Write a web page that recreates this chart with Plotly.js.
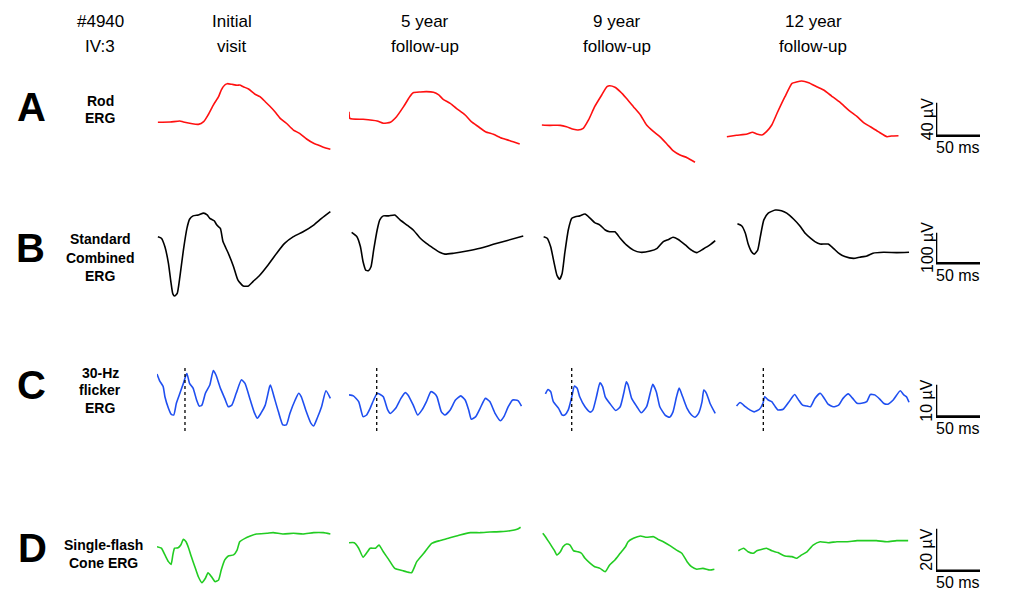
<!DOCTYPE html>
<html>
<head>
<meta charset="utf-8">
<script src="https://cdn.plot.ly/plotly-3.0.1.min.js"></script>
<style>body{margin:0;background:#fff}#plot{width:1011px;height:606px}</style>
</head>
<body>
<div id="plot"></div>
<script>
// sweeps: time (ms) from start of each trace, amplitude (uV); one inner list per visit
var visits = ['Initial visit', '5 year follow-up', '9 year follow-up', '12 year follow-up'];

var rodT = [
  [1,15,26,30,47,53,58,64,70,73,77,80,85,91,94,98,104,111,117,123,128,134,140,147,155,162,170,178,183,189,197],
  [0,1,16,32,39,47,54,62,69,73,81,88,96,102,107,115,122,132,139,147,155,164,174,183,194],
  [1,10,22,29,37,42,48,54,61,69,75,78,84,90,97,105,113,120,128,135,143,150,158,166,175],
  [1,12,24,30,35,41,46,52,58,67,75,80,86,94,103,111,120,130,139,149,156,164,173,183,188,196]
];
var rodUv = [
  [3.3,3.6,4.8,3.6,0.8,4.0,12.1,24.2,34.3,42.4,48.5,50.1,49.3,48.1,48.5,46.4,43.6,37.6,34.3,28.2,23.0,16.1,8.1,2.1,-6.1,-10.1,-17.0,-22.2,-24.2,-27.0,-29.5],
  [16,8,6.9,4.8,2.1,3.3,10.1,22.2,34.3,39.1,40.0,40.4,39.6,36.4,31.1,26.3,20.2,12.1,4.0,-2.1,-8.1,-11.3,-16.1,-19.0,-23.0],
  [0,-0.4,-0.4,-2.1,-5.2,-6.1,-4.0,6.1,22.2,36.4,46.4,47.6,45.7,40.4,32.4,22.2,12.1,0,-8.1,-14.2,-23.0,-31.1,-36.4,-39.6,-45.2],
  [-14.2,-12.5,-10.9,-8.8,-10.9,-12.1,-8.1,0,14.2,34.3,50.5,52.1,53.3,51.3,46.4,42.4,35.1,27.0,18.2,10.1,3.3,-2.1,-8.1,-14.2,-13.3,-13.0]
];

var combT = [
  [1,5,9,13,16,18,20,23,26,30,34,37,41,47,53,57,60,65,68,72,75,81,87,92,98,104,109,117,126,136,145,155,166,178,187,197],
  [3,9,13,16,19,22,25,28,32,35,39,45,52,58,66,73,81,88,96,103,109,119,134,149,164,179,198],
  [3,7,11,15,18,21,24,27,31,35,39,44,50,56,61,67,73,78,84,90,97,105,113,124,132,139,145,150,156,164,171,177,184,192,198],
  [13,18,22,25,29,32,36,39,43,48,56,63,69,77,84,90,96,101,107,116,122,128,135,145,152,160,167,179,194,208]
];
var combUv = [
  [1,-4,-32,-86,-151,-186,-193,-184,-130,-43,28,58,69,72,78,72,61,53,39,28,-15,-53,-97,-141,-160,-160,-146,-124,-92,-53,-21,1,17,39,61,83],
  [15,1,-32,-81,-108,-110,-97,-43,23,56,69,69,72,56,39,23,-4,-21,-37,-50,-56,-53,-46,-37,-24,-12,3],
  [1,-4,-32,-86,-124,-138,-119,-53,23,61,66,69,75,61,47,39,23,17,17,-4,-26,-43,-50,-46,-37,-15,-8,-1,-8,-26,-43,-51,-40,-26,-12],
  [43,36,12,-21,-48,-56,-43,1,56,78,88,86,78,58,36,12,-4,-15,-23,-23,-37,-53,-64,-70,-66,-62,-53,-50,-51,-50]
];

var flickT = [
  [0,3,7,9,13,16,19,22,26,30,33,34,37,41,45,48,51,55,60,64,67,72,77,81,85,90,96,100,106,111,114,118,123,128,129,133,138,143,147,151,157,161,164,169,175,178,182,187,192,197],
  [0,5,11,16,20,24,28,32,35,39,44,47,53,59,64,67,73,78,83,88,93,97,100,105,109,115,121,127,132,136,139,144,149,155,160,166,172,176,181,186,192,196],
  [5,8,11,14,20,24,27,31,35,38,41,44,50,56,59,63,67,70,73,78,85,90,94,97,99,103,109,114,120,124,127,131,135,141,146,150,154,157,161,166,171,175,179,183,185,188,192,198],
  [12,16,22,27,32,38,42,44,48,52,56,59,65,71,78,82,87,92,96,101,107,111,116,122,128,133,139,144,149,154,160,164,169,175,179,184,190,198,202,205,208]
];
var flickUv = [
  [8.1,6.0,4.2,1.0,-2.6,-4.4,-4.7,-1.0,2.1,5.2,7.8,8.3,5.2,3.7,0,-1.9,-1.6,2.1,4.7,9.2,7.8,3.7,0.5,-2.1,-1.6,2.1,6.3,5.2,0,-4.2,-5.7,-4.2,-1.6,4.2,4.7,1.0,-3.7,-7.8,-7.8,-4.2,0,2.1,1.0,-3.1,-7.3,-8.1,-5.7,-2.1,2.9,0.5],
  [1.6,1.3,-0.5,-5.2,-4.7,-2.6,0,2.1,1.8,1.0,-3.1,-4.2,-2.6,0.5,2.3,1.6,-1.6,-4.7,-3.1,-0.5,2.6,2.1,1.0,-3.7,-4.7,-3.1,0,1.3,0,-3.1,-6.0,-5.2,-2.6,0.5,-0.5,-4.2,-6.5,-5.2,-2.1,0,-0.2,-1.9],
  [1.9,3.3,2.6,-0.5,-2.6,-4.7,-4.7,-3.1,1.0,4.4,3.7,1.0,-2.1,-3.8,-3.1,1.0,5.4,4.2,1.0,-1.0,-3.3,-2.1,2.1,5.7,4.7,0.5,-2.1,-4.0,-2.1,2.1,4.9,2.6,-2.1,-4.7,-5.4,-3.7,1.0,3.7,1.0,-2.6,-4.7,-5.4,-4.2,-0.5,3.1,2.1,-1.0,-4.2],
  [-1.9,-0.8,-2.1,-3.1,-3.7,-2.9,-1.0,1.0,0,-0.5,-2.1,-3.1,-2.9,-0.8,1.7,0.2,-1.6,-1.9,-2.1,0.5,2.1,0.8,-1.3,-2.1,-1.6,0.5,1.9,0.5,-1.0,-1.0,-0.5,1.7,1.6,0.2,-1.0,-1.3,0,2.9,1.6,1.0,-0.7]
];
// dotted marker at the first flicker peak (ms)
var flickMarkT = [31.8, 31.5, 34.9, 42.4];
var flickMarkUv = [10, -10.4];

var coneT = [
  [0,5,9,13,16,18,20,24,27,30,33,36,39,43,47,51,55,58,62,66,70,73,77,81,87,91,94,100,106,113,125,132,143,155,166,178,189,197],
  [0,6,11,16,21,24,30,34,39,45,52,62,71,77,85,94,103,113,126,138,149,160,172,183,191,195],
  [2,5,10,15,18,22,25,29,33,37,42,46,50,56,61,67,73,78,84,90,96,99,105,113,120,128,133,139,147,154,160,166,171,177,184,192,197],
  [14,20,25,31,35,41,46,52,59,67,75,80,86,92,99,107,116,126,137,149,160,171,183,194,207]
];
var coneUv = [
  [0.6,-0.1,-3.3,-6.5,-7.8,-3.3,-0.1,0.1,1.4,4.1,3.0,-0.1,-4.1,-8.9,-13.7,-16.5,-14.4,-11.8,-13.7,-16.0,-15.2,-10.5,-5.7,-3.8,-3.3,-1.0,3.0,4.6,5.7,6.7,7.0,7.3,6.7,7.0,6.7,7.3,7.3,6.7],
  [2.5,2.5,-0.1,-4.4,-1.8,-0.1,-0.1,1.4,-1.8,-5.4,-9.7,-10.9,-11.8,-6.5,-2.5,2.2,3.5,4.6,6.2,7.3,7.3,7.6,7.8,8.2,8.9,9.9],
  [7.0,5.4,2.2,-1.0,-3.3,-1.8,0.6,1.9,1.4,-1.3,-1.8,-2.5,-4.9,-7.3,-8.9,-9.7,-11.3,-8.1,-5.7,-2.5,0.6,3.0,4.6,5.7,5.1,5.4,4.1,3.0,1.0,-1.0,-2.5,-6.5,-8.9,-10.1,-9.7,-10.5,-10.1],
  [-1.3,-0.1,-1.8,-2.5,-1.3,-0.6,-0.1,-1.3,-2.2,-3.8,-4.1,-4.9,-3.3,-1.8,1.4,3.0,2.5,3.0,3.0,3.5,3.5,3.5,3.0,3.5,3.5]
];

// calibration bars
var scaleMs = 50;
var scaleUv = [40, 100, 10, 20];
var scaleFootUv = [-13, -86, -5.2, -10.8];

var rowLetters = ['A', 'B', 'C', 'D'];
var rowNames = [['Rod', 'ERG'], ['Standard', 'Combined', 'ERG'], ['30-Hz', 'flicker', 'ERG'], ['Single-flash', 'Cone ERG']];

// ---- page geometry (pixels) ----
var W = 1011, H = 606;
var msPx = 0.88;
var colLeft = [157, 349, 541, 726];
var scaleLeft = 936;
var rowZero = [125, 237, 400, 548];
var rowPxPerUv = [0.825, 0.306, 3.2, 2.1];
var rowRange = [[-60, 70], [-220, 120], [-12, 12], [-20, 15]];
var rowColor = ['#ff1010', '#000000', '#1f4ff0', '#22cc22'];
var font = 'Arial, "Liberation Sans", sans-serif';

function px(x) { return x / W; }
function py(y) { return 1 - y / H; }
function ax(i) { return i === 0 ? '' : String(i + 1); }

var layout = {
  width: W, height: H,
  margin: {l: 0, r: 0, t: 0, b: 0},
  paper_bgcolor: '#fff', plot_bgcolor: 'rgba(0,0,0,0)',
  showlegend: false,
  font: {family: font, color: '#000'},
  annotations: []
};

var xSpan = 220;
colLeft.forEach(function (left, c) {
  layout['xaxis' + ax(c)] = {domain: [px(left), px(left + msPx * xSpan)], range: [0, xSpan],
    visible: false, fixedrange: true, anchor: 'y'};
});
layout.xaxis5 = {domain: [px(scaleLeft), px(scaleLeft + msPx * 60)], range: [0, 60],
  visible: false, fixedrange: true, anchor: 'y'};

rowZero.forEach(function (zero, r) {
  var lo = rowRange[r][0], hi = rowRange[r][1], k = rowPxPerUv[r];
  layout['yaxis' + ax(r)] = {domain: [py(zero - lo * k), py(zero - hi * k)], range: [lo, hi],
    visible: false, fixedrange: true, anchor: 'x'};
});

var rowsT = [rodT, combT, flickT, coneT];
var rowsUv = [rodUv, combUv, flickUv, coneUv];
var data = [];

rowsT.forEach(function (tList, r) {
  tList.forEach(function (t, c) {
    data.push({x: t, y: rowsUv[r][c], xaxis: 'x' + ax(c), yaxis: 'y' + ax(r),
      type: 'scatter', mode: 'lines', name: visits[c],
      line: {color: rowColor[r], width: 1.6, shape: 'spline', smoothing: 0.5}, hoverinfo: 'skip'});
  });
});

flickMarkT.forEach(function (t, c) {
  data.push({x: [t, t], y: flickMarkUv, xaxis: 'x' + ax(c), yaxis: 'y3',
    type: 'scatter', mode: 'lines', line: {color: '#000', width: 1.3, dash: 'dot'}, hoverinfo: 'skip'});
});

function label(text, x, y, size, bold, angle) {
  layout.annotations.push({text: bold ? '<b>' + text + '</b>' : text, x: px(x), y: py(y),
    xref: 'paper', yref: 'paper', xanchor: 'center', yanchor: 'middle', showarrow: false,
    textangle: angle || 0, font: {size: size}});
}

scaleUv.forEach(function (uv, r) {
  var foot = scaleFootUv[r];
  data.push({x: [0, 0, scaleMs], y: [foot + uv, foot, foot], xaxis: 'x5', yaxis: 'y' + ax(r),
    type: 'scatter', mode: 'lines', line: {color: '#000', width: 2.6}, hoverinfo: 'skip'});
  var k = rowPxPerUv[r];
  var topPx = rowZero[r] - (foot + uv) * k, footPx = rowZero[r] - foot * k;
  label(uv + ' \u00b5V', scaleLeft - 9, (topPx + footPx) / 2, 16, false, -90);
  label(scaleMs + ' ms', scaleLeft + msPx * scaleMs / 2, footPx + 12, 16, false);
});

label('#4940', 100, 22, 17); label('IV:3', 100, 46, 17);
var headX = [232, 425, 617, 813];
visits.forEach(function (v, c) {
  var parts = c === 0 ? ['Initial', 'visit'] : [v.replace(' follow-up', ''), 'follow-up'];
  label(parts[0], headX[c], 22, 17);
  label(parts[1], headX[c], 46, 17);
});

var letterPos = [[31, 107], [30, 248], [31, 385], [32, 548]];
var namePos = [[100, [101, 118]], [100, [239, 258, 276]], [100, [373, 390, 408]], [103, [545, 563]]];
rowLetters.forEach(function (L, r) {
  label(L, letterPos[r][0], letterPos[r][1], 40, true);
  rowNames[r].forEach(function (s, i) { label(s, namePos[r][0], namePos[r][1][i], 14, true); });
});

Plotly.newPlot('plot', data, layout, {staticPlot: true, displayModeBar: false});
</script>
</body>
</html>
